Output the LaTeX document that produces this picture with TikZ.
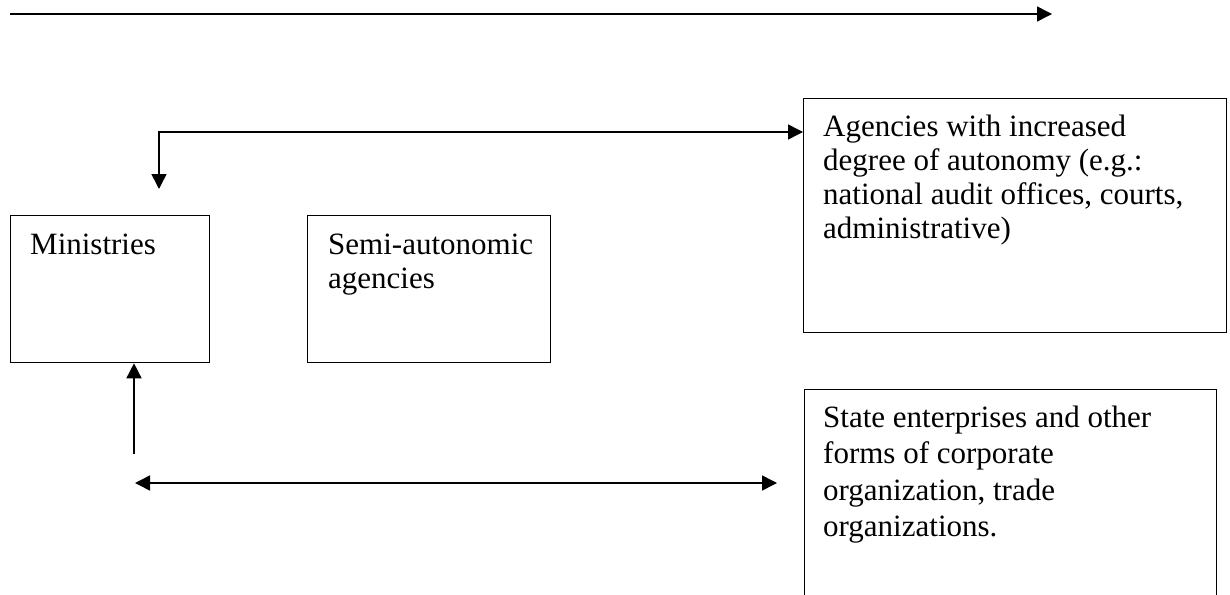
\documentclass[tikz,border=0pt]{standalone}
\usepackage{fontspec}
\setmainfont{Liberation Serif}
\usetikzlibrary{arrows.meta,positioning}
\tikzset{box/.style={draw,line width=1.3pt,rectangle,anchor=north west,inner sep=0pt},
  lbl/.style={anchor=north west,align=left,inner sep=0pt,font=\fontsize{31}{34}\selectfont},
  arr/.style={line width=1.5pt,-{Triangle[length=15pt,width=15pt]}},
  darr/.style={line width=1.5pt,{Triangle[length=15pt,width=15pt]}-{Triangle[length=15pt,width=15pt]}}}

\begin{document}
\begin{tikzpicture}[x=1pt,y=-1pt]
\clip (0,0) rectangle (1230,594);
\node[box,minimum width=199pt,minimum height=147pt] (mins) at (10,215) {};
\node[box,minimum width=243pt,minimum height=147pt] (semi) at (307,215) {};
\node[box,minimum width=423pt,minimum height=234pt] (agen) at (803,98) {};
\node[box,minimum width=412pt,minimum height=240pt] (state) at (804,389) {};
\node[lbl,below right=18.5pt and 20pt of mins.north west] {Ministries};
\node[lbl,below right=18.5pt and 21pt of semi.north west] {Semi-autonomic\\agencies};
\node[lbl,below right=16.5pt and 20pt of agen.north west] {Agencies with increased\\degree of autonomy (e.g.:\\national audit offices, courts,\\administrative)};
\node[lbl,below right=16.5pt and 19pt of state.north west,font=\fontsize{31}{36.5}\selectfont] {State enterprises and other\\forms of corporate\\organization, trade\\organizations.};
% arrows
\coordinate (t0) at (10,14); \coordinate (t1) at (1052,14);
\draw[arr] (t0) -- (t1);
\coordinate (bend) at (159,132); \coordinate (dn) at (159,189);
\draw[darr] (dn) -- (bend) -- (agen.west |- bend);
\coordinate (up) at (134,454);
\draw[arr] (up) -- (mins.south -| up);
\coordinate (l) at (135,483); \coordinate (r) at (777,483);
\draw[darr] (l) -- (r);
\end{tikzpicture}
\end{document}
